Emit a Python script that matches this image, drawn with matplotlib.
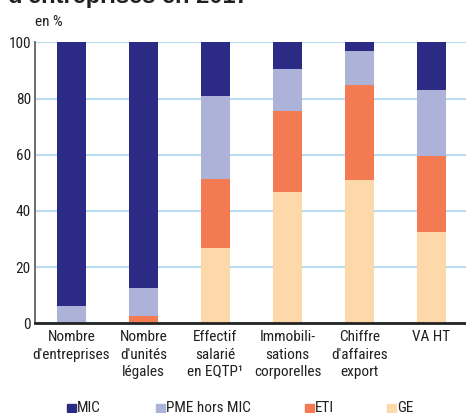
import matplotlib
matplotlib.use("Agg")
import matplotlib.pyplot as plt
from matplotlib.patches import Rectangle
import numpy as np

plt.rcParams['font.family'] = ['Roboto Condensed', 'DejaVu Sans']

categories = ["Nombre\nd'entreprises", "Nombre\nd'unités\nlégales", "Effectif\nsalarié\nen EQTP¹",
              "Immobili-\nsations\ncorporelles", "Chiffre\nd'affaires\nexport", "VA HT"]
series_names = ["MIC", "PME hors MIC", "ETI", "GE"]
ge = [0.0, 0.4, 26.8, 46.7, 51.0, 32.5]
eti = [0.2, 2.3, 24.5, 28.8, 33.8, 27.0]
pme = [6.0, 10.0, 29.6, 15.0, 12.2, 23.5]
mic = [93.8, 87.3, 19.1, 9.5, 3.0, 17.0]
yticks = [0, 20, 40, 60, 80, 100]

colors = {"MIC": "#2b2a84", "PME hors MIC": "#adb3d8", "ETI": "#f47a53", "GE": "#fdd8a8"}
FS = 11

W, H = 466, 413
fig = plt.figure(figsize=(W / 100, H / 100), dpi=100)
ax = fig.add_axes([35 / W, 1 - 323.3 / H, (466 - 35) / W, (323.3 - 42.3) / H])

x = np.arange(len(categories))
bw = 0.40
bottom = np.zeros(len(categories))
for name, vals in [("GE", ge), ("ETI", eti), ("PME hors MIC", pme), ("MIC", mic)]:
    ax.bar(x, vals, bw, bottom=bottom, color=colors[name], zorder=3, linewidth=0)
    bottom += np.array(vals)

ax.set_xlim(-0.507, 5.48)
ax.set_ylim(0, 100)
ax.set_yticks(yticks)
ax.set_yticklabels([str(v) for v in yticks], fontsize=FS, color="#231f20")
ax.tick_params(axis='y', length=0, pad=3)
ax.tick_params(axis='x', length=0, pad=5)
ax.set_xticks(x)
ax.set_xticklabels(categories, fontsize=FS, color="#231f20", linespacing=1.3, va='top')
ax.yaxis.grid(True, color="#bcdcf0", linewidth=1.6, zorder=0)
ax.set_axisbelow(True)
for s in ["top", "right"]:
    ax.spines[s].set_visible(False)
ax.spines["left"].set_color("#555555")
ax.spines["left"].set_linewidth(1.2)
ax.spines["bottom"].set_color("#222222")
ax.spines["bottom"].set_linewidth(2.0)
ax.spines["bottom"].set_zorder(4)

fig.text(35 / W, 1 - 22 / H, "en %", fontsize=FS, color="#231f20", va='center', ha='left')
fig.text(8 / W, 1 - 3 / H, "d'entreprises en 2017", fontsize=17, fontweight='bold',
         color="#231f20", va='baseline', ha='left', family=['Liberation Sans', 'DejaVu Sans'])

# legend
leg_pos = [(67, "MIC"), (156, "PME hors MIC"), (305, "ETI"), (387, "GE")]
for px, name in leg_pos:
    fig.patches.append(Rectangle((px / W, 1 - 412 / H), 8.5 / W, 8.5 / H,
                                 transform=fig.transFigure, color=colors[name]))
    fig.text((px + 10) / W, 1 - 407.5 / H, name, fontsize=FS, color="#231f20",
             va='center', ha='left')

fig.savefig("out.png", dpi=100)
